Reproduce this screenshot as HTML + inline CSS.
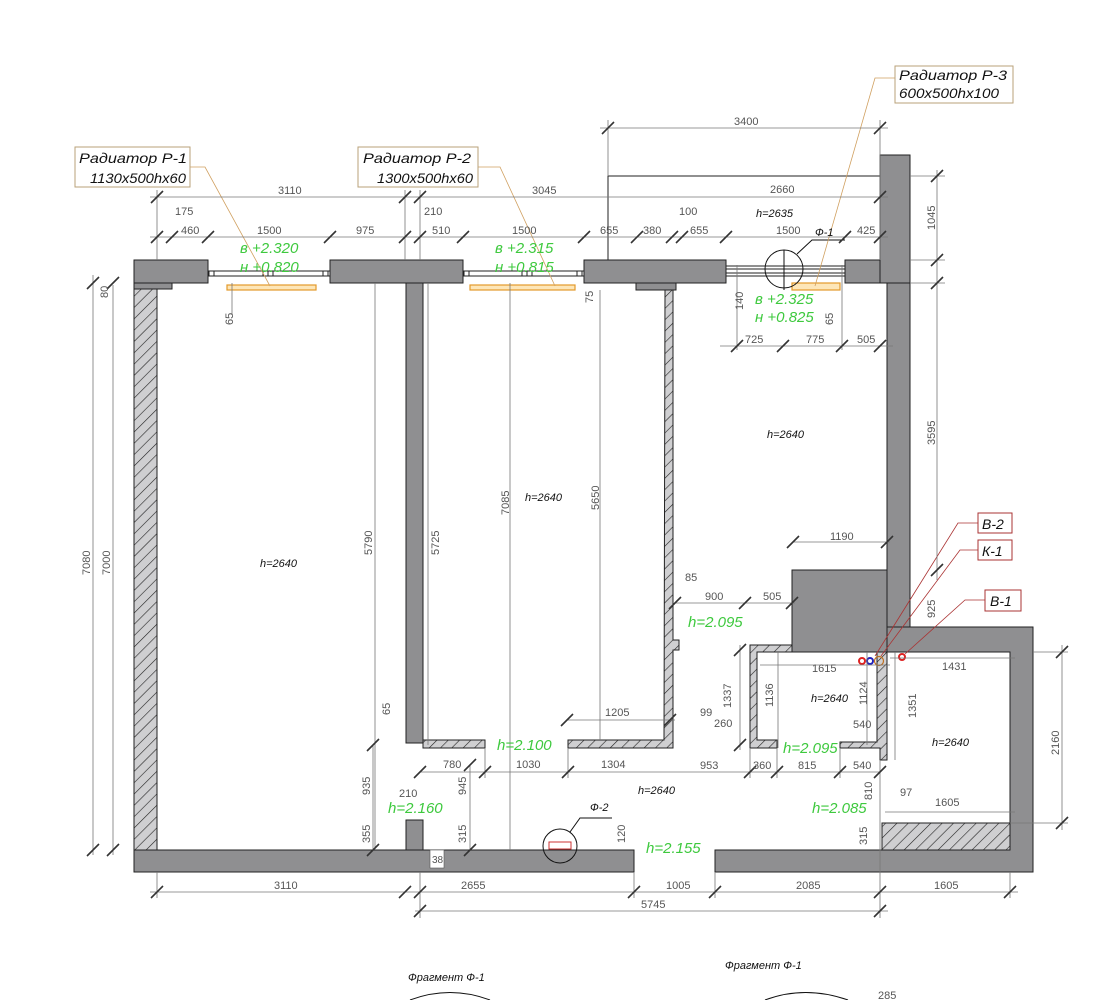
<!DOCTYPE html>
<html><head><meta charset="utf-8"><style>
html,body{margin:0;padding:0;background:#fff;}
svg{display:block;}
</style></head><body>
<svg width="1117" height="1000" viewBox="0 0 1117 1000" xmlns="http://www.w3.org/2000/svg">
<defs>
<pattern id="h" width="8" height="8" patternUnits="userSpaceOnUse" patternTransform="rotate(45)">
<rect width="8" height="8" fill="#cfcfd1"/><line x1="0" y1="0" x2="0" y2="8" stroke="#222" stroke-width="1.2"/>
</pattern>
</defs>
<rect width="1117" height="1000" fill="#fff"/>

<polyline points="608,260 608,176 880,176" fill="none" stroke="#222" stroke-width="1"/>

<g fill="#8f8f91" stroke="#222" stroke-width="1">
<rect x="134" y="260" width="74" height="23"/>
<rect x="134" y="283" width="38" height="6"/>
<rect x="330" y="260" width="133" height="23"/>
<rect x="406" y="283" width="17" height="460"/>
<rect x="406" y="820" width="17" height="30"/>
<rect x="584" y="260" width="142" height="23"/>
<rect x="636" y="283" width="40" height="7"/>
<rect x="845" y="260" width="65" height="23"/>
<rect x="880" y="155" width="30" height="128"/>
<rect x="887" y="283" width="23" height="344"/>
<rect x="792" y="570" width="95" height="82"/>
<polygon points="887,627 1033,627 1033,872 715,872 715,850 1010,850 1010,652 887,652"/>
<rect x="134" y="850" width="500" height="22"/>
</g>
<g fill="#fff" stroke="#222" stroke-width="1">
<rect x="208" y="271" width="122" height="5"/>
<rect x="463" y="271" width="121" height="5"/>
<rect x="726" y="266" width="119" height="3"/><rect x="726" y="273" width="119" height="3"/>
<rect x="209" y="271" width="5" height="5"/><rect x="263" y="271" width="5" height="5"/><rect x="268" y="271" width="5" height="5"/><rect x="323" y="271" width="5" height="5"/>
<rect x="464" y="271" width="5" height="5"/><rect x="522" y="271" width="5" height="5"/><rect x="527" y="271" width="5" height="5"/><rect x="577" y="271" width="5" height="5"/>
</g>
<g fill="url(#h)" stroke="#222" stroke-width="1">
<rect x="134" y="289" width="23" height="561"/>
<polygon points="665,290 673,290 673,640 679,640 679,650 673,650 673,748 568,748 568,740 664,740"/>
<rect x="423" y="740" width="62" height="8"/>
<polygon points="750,645 792,645 792,652 757,652 757,740 777,740 777,748 750,748"/>
<polygon points="840,742 877,742 877,652 887,652 887,760 880,760 880,748 840,748"/>
<rect x="882" y="823" width="128" height="27"/>
</g>
<g fill="#fde6b8" stroke="#e39a2b" stroke-width="1.2">
<rect x="227" y="285" width="89" height="5"/>
<rect x="470" y="285" width="105" height="5"/>
<rect x="792" y="283" width="48" height="7"/>
</g>
<g fill="none" stroke="#111" stroke-width="1">
<circle cx="784" cy="269" r="19"/>
<line x1="784" y1="250" x2="784" y2="290"/>
<polyline points="797,254 812,240 845,240"/>
<circle cx="560" cy="846" r="17"/>
<polyline points="570,832 580,818 612,818"/>
</g>
<rect x="549" y="842" width="22" height="7" fill="#fff" stroke="#c33" stroke-width="1"/>
<rect x="430" y="850" width="14" height="18" fill="#fff" stroke="#555" stroke-width="0.6"/>
<circle cx="862" cy="661" r="3" fill="#fff" stroke="#d22" stroke-width="2"/>
<circle cx="870" cy="661" r="3" fill="#fff" stroke="#22b" stroke-width="2"/>
<circle cx="879" cy="661" r="4.5" fill="none" stroke="#c07020" stroke-width="1.2"/>
<circle cx="902" cy="657" r="3" fill="#fff" stroke="#d22" stroke-width="2"/>

<g fill="none" stroke="#d0a060" stroke-width="0.8">
<polyline points="190,167 205,167 270,286"/>
<polyline points="478,167 500,167 555,286"/>
<polyline points="895,78 875,78 815,286"/>
</g>
<g fill="none" stroke="#a33" stroke-width="0.8">
<polyline points="978,523 958,523 875,656"/>
<polyline points="978,550 960,550 881,656"/>
<polyline points="985,600 965,600 905,654"/>
</g>
<g fill="#fff" stroke="#b9a27a" stroke-width="1">
<rect x="75" y="147" width="115" height="40"/>
<rect x="358" y="147" width="120" height="40"/>
<rect x="895" y="66" width="118" height="37"/>
</g>
<g fill="#fff" stroke="#a33" stroke-width="1">
<rect x="978" y="513" width="34" height="20"/>
<rect x="978" y="540" width="34" height="20"/>
<rect x="985" y="590" width="36" height="21"/>
</g>
<g font-family="Liberation Sans, DejaVu Sans, sans-serif" font-style="italic" font-size="14" fill="#111">
<text x="79" y="163" textLength="108" lengthAdjust="spacingAndGlyphs">Радиатор Р-1</text><text x="90" y="183" textLength="96" lengthAdjust="spacingAndGlyphs">1130x500hx60</text>
<text x="363" y="163" textLength="108" lengthAdjust="spacingAndGlyphs">Радиатор Р-2</text><text x="377" y="183" textLength="96" lengthAdjust="spacingAndGlyphs">1300x500hx60</text>
<text x="899" y="80" textLength="108" lengthAdjust="spacingAndGlyphs">Радиатор Р-3</text><text x="899" y="98" textLength="100" lengthAdjust="spacingAndGlyphs">600x500hx100</text>
<text x="982" y="529">В-2</text><text x="982" y="556">К-1</text><text x="990" y="606">В-1</text>
</g>

<g stroke="#777" stroke-width="0.8" fill="none">
<line x1="150" y1="197" x2="888" y2="197"/>
<line x1="600" y1="128" x2="888" y2="128"/>
<line x1="150" y1="237" x2="888" y2="237"/>
<line x1="720" y1="346" x2="893" y2="346"/>
<line x1="150" y1="892" x2="1018" y2="892"/>
<line x1="415" y1="911" x2="888" y2="911"/>
<line x1="93" y1="275" x2="93" y2="855"/>
<line x1="113" y1="285" x2="113" y2="855"/>
<line x1="937" y1="170" x2="937" y2="580"/>
<line x1="1062" y1="645" x2="1062" y2="830"/>
<line x1="375" y1="283" x2="375" y2="850"/>
<line x1="428" y1="283" x2="428" y2="745"/>
<line x1="510" y1="283" x2="510" y2="850"/>
<line x1="600" y1="290" x2="600" y2="740"/>
<line x1="373" y1="745" x2="373" y2="850"/>
<line x1="470" y1="765" x2="470" y2="850"/>
<line x1="740" y1="645" x2="740" y2="750"/>
<line x1="778" y1="652" x2="778" y2="748"/>
<line x1="867" y1="652" x2="867" y2="745"/>
<line x1="895" y1="652" x2="895" y2="760"/>
<line x1="880" y1="760" x2="880" y2="850"/>
<line x1="420" y1="772" x2="880" y2="772"/>
<line x1="567" y1="720" x2="675" y2="720"/>
<line x1="675" y1="603" x2="795" y2="603"/>
<line x1="793" y1="542" x2="890" y2="542"/>
<line x1="760" y1="665" x2="890" y2="665"/>
<line x1="890" y1="658" x2="1015" y2="658"/>
<line x1="885" y1="812" x2="1015" y2="812"/>
<line x1="737" y1="265" x2="737" y2="350"/>
<line x1="842" y1="265" x2="842" y2="350"/>
<line x1="232" y1="283" x2="232" y2="315"/>
<line x1="910" y1="176" x2="945" y2="176"/>
<line x1="910" y1="260" x2="945" y2="260"/>
<line x1="910" y1="283" x2="945" y2="283"/>
<line x1="1033" y1="652" x2="1068" y2="652"/>
<line x1="1010" y1="823" x2="1068" y2="823"/>
<line x1="608" y1="120" x2="608" y2="176"/>
<line x1="157" y1="190" x2="157" y2="260"/>
<line x1="405" y1="190" x2="405" y2="260"/>
<line x1="420" y1="190" x2="420" y2="260"/>
<line x1="880" y1="120" x2="880" y2="260"/>
<line x1="157" y1="872" x2="157" y2="898"/>
<line x1="634" y1="872" x2="634" y2="898"/>
<line x1="715" y1="872" x2="715" y2="898"/>
<line x1="1010" y1="872" x2="1010" y2="898"/>
<line x1="880" y1="850" x2="880" y2="918"/>
<line x1="420" y1="872" x2="420" y2="918"/>
<line x1="750" y1="748" x2="750" y2="778"/>
<line x1="777" y1="748" x2="777" y2="778"/>
<line x1="840" y1="748" x2="840" y2="778"/>
<line x1="485" y1="748" x2="485" y2="778"/>
<line x1="568" y1="748" x2="568" y2="778"/>
</g>
<g stroke="#333" stroke-width="1.6">
<path d="M151,203l12,-12M399,203l12,-12M414,203l12,-12M874,203l12,-12M602,134l12,-12M874,134l12,-12 M151,243l12,-12M166,243l12,-12M202,243l12,-12M324,243l12,-12M399,243l12,-12M414,243l12,-12M457,243l12,-12M578,243l12,-12M631,243l12,-12M666,243l12,-12M676,243l12,-12M720,243l12,-12M839,243l12,-12M874,243l12,-12 M731,352l12,-12M777,352l12,-12M836,352l12,-12M874,352l12,-12 M151,898l12,-12M399,898l12,-12M414,898l12,-12M628,898l12,-12M709,898l12,-12M874,898l12,-12M1004,898l12,-12 M414,917l12,-12M874,917l12,-12 M87,289l12,-12M107,289l12,-12M87,856l12,-12M107,856l12,-12 M931,182l12,-12M931,266l12,-12M931,289l12,-12M931,576l12,-12 M1056,658l12,-12M1056,829l12,-12 M414,778l12,-12M479,778l12,-12M562,778l12,-12M744,778l12,-12M771,778l12,-12M834,778l12,-12M874,778l12,-12 M787,548l12,-12M881,548l12,-12M669,609l12,-12M739,609l12,-12M786,609l12,-12 M561,726l12,-12M664,726l12,-12 M367,751l12,-12M367,856l12,-12M464,771l12,-12M464,856l12,-12M734,656l12,-12M734,751l12,-12"/>
</g>

<g font-family="Liberation Sans Narrow, Liberation Sans, sans-serif" font-size="11" fill="#555">
<text x="278" y="194">3110</text><text x="532" y="194">3045</text><text x="770" y="193">2660</text><text x="734" y="125">3400</text>
<text x="175" y="215">175</text><text x="181" y="234">460</text><text x="257" y="234">1500</text><text x="356" y="234">975</text>
<text x="424" y="215">210</text><text x="432" y="234">510</text><text x="512" y="234">1500</text><text x="600" y="234">655</text>
<text x="643" y="234">380</text><text x="679" y="215">100</text><text x="690" y="234">655</text><text x="776" y="234">1500</text><text x="857" y="234">425</text>
<text x="745" y="343">725</text><text x="806" y="343">775</text><text x="857" y="343">505</text>
<text x="274" y="889">3110</text><text x="461" y="889">2655</text><text x="666" y="889">1005</text><text x="796" y="889">2085</text><text x="934" y="889">1605</text><text x="641" y="908">5745</text>
<text x="830" y="540">1190</text><text x="685" y="581">85</text><text x="705" y="600">900</text><text x="763" y="600">505</text>
<text x="812" y="672">1615</text><text x="942" y="670">1431</text><text x="700" y="716">99</text><text x="714" y="727">260</text>
<text x="853" y="728">540</text><text x="700" y="769">953</text><text x="753" y="769">360</text><text x="798" y="769">815</text><text x="853" y="769">540</text>
<text x="900" y="796">97</text><text x="935" y="806">1605</text><text x="605" y="716">1205</text>
<text x="443" y="768">780</text><text x="516" y="768">1030</text><text x="601" y="768">1304</text>
<text x="399" y="797">210</text><text x="432" y="863" font-size="10">38</text>
<text x="878" y="999">285</text>
<text transform="translate(108,298) rotate(-90)">80</text>
<text transform="translate(90,575) rotate(-90)">7080</text>
<text transform="translate(110,575) rotate(-90)">7000</text>
<text transform="translate(233,325) rotate(-90)">65</text>
<text transform="translate(372,555) rotate(-90)">5790</text>
<text transform="translate(439,555) rotate(-90)">5725</text>
<text transform="translate(509,515) rotate(-90)">7085</text>
<text transform="translate(599,510) rotate(-90)">5650</text>
<text transform="translate(593,303) rotate(-90)">75</text>
<text transform="translate(743,310) rotate(-90)">140</text>
<text transform="translate(833,325) rotate(-90)">65</text>
<text transform="translate(935,230) rotate(-90)">1045</text>
<text transform="translate(935,445) rotate(-90)">3595</text>
<text transform="translate(935,618) rotate(-90)">925</text>
<text transform="translate(1059,755) rotate(-90)">2160</text>
<text transform="translate(731,708) rotate(-90)">1337</text>
<text transform="translate(773,707) rotate(-90)">1136</text>
<text transform="translate(867,705) rotate(-90)">1124</text>
<text transform="translate(916,718) rotate(-90)">1351</text>
<text transform="translate(390,715) rotate(-90)">65</text>
<text transform="translate(370,795) rotate(-90)">935</text>
<text transform="translate(466,795) rotate(-90)">945</text>
<text transform="translate(370,843) rotate(-90)">355</text>
<text transform="translate(466,843) rotate(-90)">315</text>
<text transform="translate(625,843) rotate(-90)">120</text>
<text transform="translate(872,800) rotate(-90)">810</text>
<text transform="translate(867,845) rotate(-90)">315</text>
</g>

<g font-family="Liberation Sans, DejaVu Sans, sans-serif" font-style="italic" font-size="11" fill="#111">
<text x="260" y="567">h=2640</text><text x="525" y="501">h=2640</text><text x="767" y="438">h=2640</text>
<text x="756" y="217">h=2635</text><text x="811" y="702">h=2640</text><text x="932" y="746">h=2640</text><text x="638" y="794">h=2640</text>
<text x="815" y="236">Ф-1</text><text x="590" y="811">Ф-2</text>
<text x="408" y="981">Фрагмент Ф-1</text><text x="725" y="969">Фрагмент Ф-1</text>
</g>
<g font-family="Liberation Sans, DejaVu Sans, sans-serif" font-style="italic" font-size="15" fill="#3ec93e">
<text x="240" y="253">в +2.320</text><text x="240" y="272">н +0.820</text>
<text x="495" y="253">в +2.315</text><text x="495" y="272">н +0.815</text>
<text x="755" y="304">в +2.325</text><text x="755" y="322">н +0.825</text>
<text x="688" y="627">h=2.095</text><text x="497" y="750">h=2.100</text><text x="783" y="753">h=2.095</text>
<text x="388" y="813">h=2.160</text><text x="812" y="813">h=2.085</text><text x="646" y="853">h=2.155</text>
</g>
<g fill="none" stroke="#111" stroke-width="1">
<path d="M410,1000 Q450,985 490,1000"/>
<path d="M765,1000 Q805,985 848,1000"/>
</g>
</svg>
</body></html>
